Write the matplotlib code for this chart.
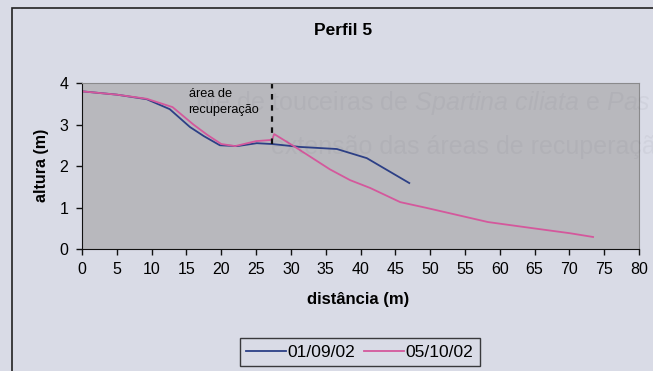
import matplotlib.pyplot as plt

plt.rcParams['font.family'] = ['Liberation Sans', 'DejaVu Sans']
plt.rcParams['mathtext.fontset'] = 'custom'
plt.rcParams['mathtext.rm'] = 'Liberation Sans'
plt.rcParams['mathtext.it'] = 'Liberation Sans:italic'

# perfil 5 - levantamento de 01/09/02
dist_a = [0, 5, 9.3, 12.6, 15.5, 17.5, 19.8, 22.3, 25.1, 27.3, 31.3, 36.6, 40.9, 47]
alt_a = [3.80, 3.72, 3.61, 3.37, 2.94, 2.72, 2.50, 2.48, 2.55, 2.53, 2.46, 2.41, 2.19, 1.59]

# perfil 5 - levantamento de 05/10/02
dist_b = [0, 5, 9.3, 13, 16, 18, 20, 22, 25, 27.3, 27.6, 30.6, 35.6, 38.5, 41.4,
          45.7, 49.5, 53.9, 58.3, 64.8, 70.1, 73.4]
alt_b = [3.80, 3.72, 3.62, 3.42, 3.0, 2.75, 2.53, 2.48, 2.60, 2.63, 2.77, 2.46, 1.92,
         1.66, 1.47, 1.13, 0.99, 0.82, 0.65, 0.50, 0.38, 0.29]

labels = ['01/09/02', '05/10/02']
limite_x = 27.3
x_ticks = list(range(0, 81, 5))
y_ticks = [0, 1, 2, 3, 4]

fundo = '#d9dbe6'
fig = plt.figure(figsize=(6.53, 3.71), dpi=100, facecolor=fundo)

# moldura do grafico
moldura = plt.Rectangle((12 / 653, -0.05), 1.2, 1 - 8 / 371 + 0.05, transform=fig.transFigure,
                        fill=False, edgecolor='#222222', linewidth=1.2)
fig.add_artist(moldura)

# texto da pagina visto por transparencia
fig.text(0.298, 0.722, 'nte de touceiras de $\\it{Spartina\\ ciliata}$ e $\\it{Pas}$', fontsize=18,
         color='#50505a', alpha=0.06, ha='left', va='center', zorder=0)
fig.text(0.415, 0.604, 'extensão das áreas de recuperação (figura', fontsize=18,
         color='#50505a', alpha=0.06, ha='left', va='center', zorder=0)

ax = fig.add_axes([0.1256, 0.3288, 0.8530, 0.4474])
ax.set_facecolor('#b6b6ba')
ax.patch.set_alpha(0.93)
ax.plot(dist_a, alt_a, color='#2c3f86', linewidth=1.3, label=labels[0])
ax.plot(dist_b, alt_b, color='#d4589c', linewidth=1.3, label=labels[1])

# divisao da area de recuperacao
ax.plot([limite_x, limite_x], [alt_a[dist_a.index(limite_x)], 4], color='#111111',
        linewidth=1.6, linestyle=(0, (2.5, 2.5)))
ax.text(15.3, 3.88, 'área de\nrecuperação', fontsize=9.2, va='top', ha='left',
        linespacing=1.45)

ax.set_xlim(0, 80)
ax.set_ylim(0, 4)
ax.set_xticks(x_ticks)
ax.set_yticks(y_ticks)
ax.tick_params(axis='both', labelsize=11.5, length=4, width=1, direction='out',
               color='#111111')
ax.tick_params(axis='x', pad=5)
ax.tick_params(axis='y', pad=6)
for s in ['left', 'bottom']:
    ax.spines[s].set_color('#111111')
for s in ['top', 'right']:
    ax.spines[s].set_color('#8a8a8c')

fig.text(0.525, 0.919, 'Perfil 5', fontsize=12.5, fontweight='bold', ha='center', va='center')
fig.text(0.548, 0.194, 'distância (m)', fontsize=12, fontweight='bold', ha='center', va='center')
fig.text(0.064, 0.555, 'altura (m)', fontsize=11.5, fontweight='bold', ha='center', va='center',
         rotation=90)

leg = fig.legend(loc='center', bbox_to_anchor=(0.551, 0.051), ncol=2, fontsize=12.5,
                 frameon=True, fancybox=False, handlelength=2.3, handletextpad=0.1,
                 columnspacing=0.5, borderpad=0.35)
leg.get_frame().set_edgecolor('#111111')
leg.get_frame().set_facecolor(fundo)
leg.get_frame().set_linewidth(1.0)

fig.savefig('out.png', dpi=100, facecolor=fundo)
